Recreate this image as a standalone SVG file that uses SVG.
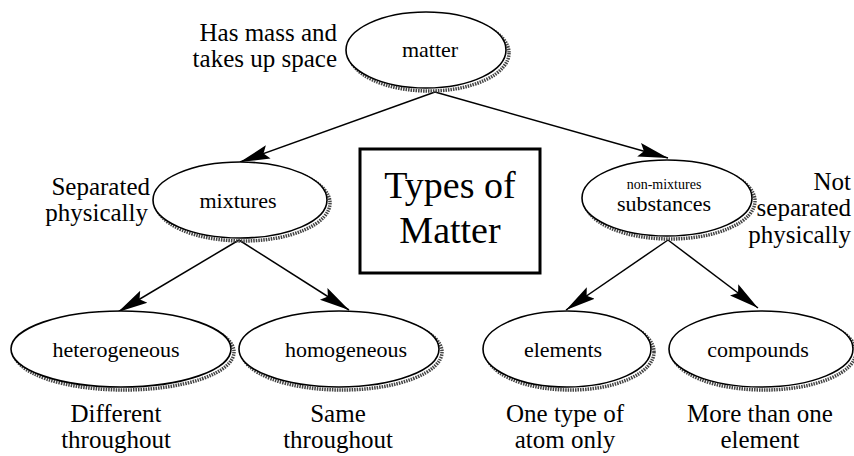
<svg xmlns="http://www.w3.org/2000/svg" width="854" height="456" viewBox="0 0 854 456">
<style>
text{font-family:'Liberation Serif','Times New Roman',Times,'DejaVu Serif',serif;fill:#000}
.sh{fill:none;stroke:#444;stroke-width:3.5;stroke-dasharray:1.5 1}
.el{fill:#fff;stroke:#000;stroke-width:1.6}
.nl{font-size:22px;text-anchor:middle}
.an{font-size:25px}
.ti{font-size:38px;text-anchor:middle}
.c{stroke:#000;stroke-width:1.5;fill:none;marker-end:url(#ah)}
</style>
<defs>
<marker id="ah" markerUnits="userSpaceOnUse" markerWidth="32" markerHeight="16" refX="30" refY="8" orient="auto">
<path d="M0,1 L30,8 L0,15 L5,8 Z" fill="#000"/>
</marker>
</defs>
<rect width="854" height="456" fill="#fff"/>
<g id="connectors">
<line class="c" x1="435" y1="92" x2="240" y2="162"/>
<line class="c" x1="435" y1="92" x2="668" y2="158"/>
<line class="c" x1="239" y1="240" x2="118" y2="312"/>
<line class="c" x1="239" y1="240" x2="349" y2="310"/>
<line class="c" x1="668" y1="240" x2="566" y2="310"/>
<line class="c" x1="668" y1="240" x2="758" y2="308"/>
</g>
<g id="matter">
<ellipse class="sh" cx="429" cy="53" rx="80" ry="38"/>
<ellipse class="el" cx="426" cy="50" rx="80" ry="38"/>
<text class="nl" x="430" y="57">matter</text>
</g>
<g id="matter-note">
<text class="an" x="337" y="41" text-anchor="end">Has mass and</text>
<text class="an" x="337" y="67" text-anchor="end">takes up space</text>
</g>
<g id="mixtures">
<ellipse class="sh" cx="243" cy="203" rx="87" ry="38"/>
<ellipse class="el" cx="240" cy="200" rx="87" ry="38"/>
<text class="nl" x="238" y="208">mixtures</text>
</g>
<g id="mixtures-note">
<text class="an" x="150" y="195" text-anchor="end">Separated</text>
<text class="an" x="148" y="221" text-anchor="end">physically</text>
</g>
<g id="title">
<rect x="360" y="149" width="180" height="124" fill="#fff" stroke="#000" stroke-width="3"/>
<text class="ti" x="450" y="198">Types of</text>
<text class="ti" x="450" y="243">Matter</text>
</g>
<g id="substances">
<ellipse class="sh" cx="670" cy="201" rx="85" ry="38"/>
<ellipse class="el" cx="667" cy="198" rx="85" ry="38"/>
<text x="664" y="189" font-size="14" text-anchor="middle">non-mixtures</text>
<text class="nl" x="664" y="211">substances</text>
</g>
<g id="substances-note">
<text class="an" x="851" y="190" text-anchor="end">Not</text>
<text class="an" x="851" y="216" text-anchor="end">separated</text>
<text class="an" x="851" y="243" text-anchor="end">physically</text>
</g>
<g id="heterogeneous">
<ellipse class="sh" cx="124" cy="352" rx="110" ry="38"/>
<ellipse class="el" cx="121" cy="349" rx="110" ry="38"/>
<text class="nl" x="116" y="357">heterogeneous</text>
<text class="an" x="116" y="422" text-anchor="middle">Different</text>
<text class="an" x="116" y="448" text-anchor="middle">throughout</text>
</g>
<g id="homogeneous">
<ellipse class="sh" cx="342" cy="352" rx="100" ry="38"/>
<ellipse class="el" cx="339" cy="349" rx="100" ry="38"/>
<text class="nl" x="346" y="357">homogeneous</text>
<text class="an" x="338" y="422" text-anchor="middle">Same</text>
<text class="an" x="338" y="448" text-anchor="middle">throughout</text>
</g>
<g id="elements">
<ellipse class="sh" cx="570" cy="352" rx="84" ry="38"/>
<ellipse class="el" cx="567" cy="349" rx="84" ry="38"/>
<text class="nl" x="563" y="357">elements</text>
<text class="an" x="565" y="422" text-anchor="middle">One type of</text>
<text class="an" x="565" y="448" text-anchor="middle">atom only</text>
</g>
<g id="compounds">
<ellipse class="sh" cx="764" cy="352" rx="92" ry="38"/>
<ellipse class="el" cx="761" cy="349" rx="92" ry="38"/>
<text class="nl" x="758" y="357">compounds</text>
<text class="an" x="760" y="422" text-anchor="middle">More than one</text>
<text class="an" x="760" y="448" text-anchor="middle">element</text>
</g>
</svg>
